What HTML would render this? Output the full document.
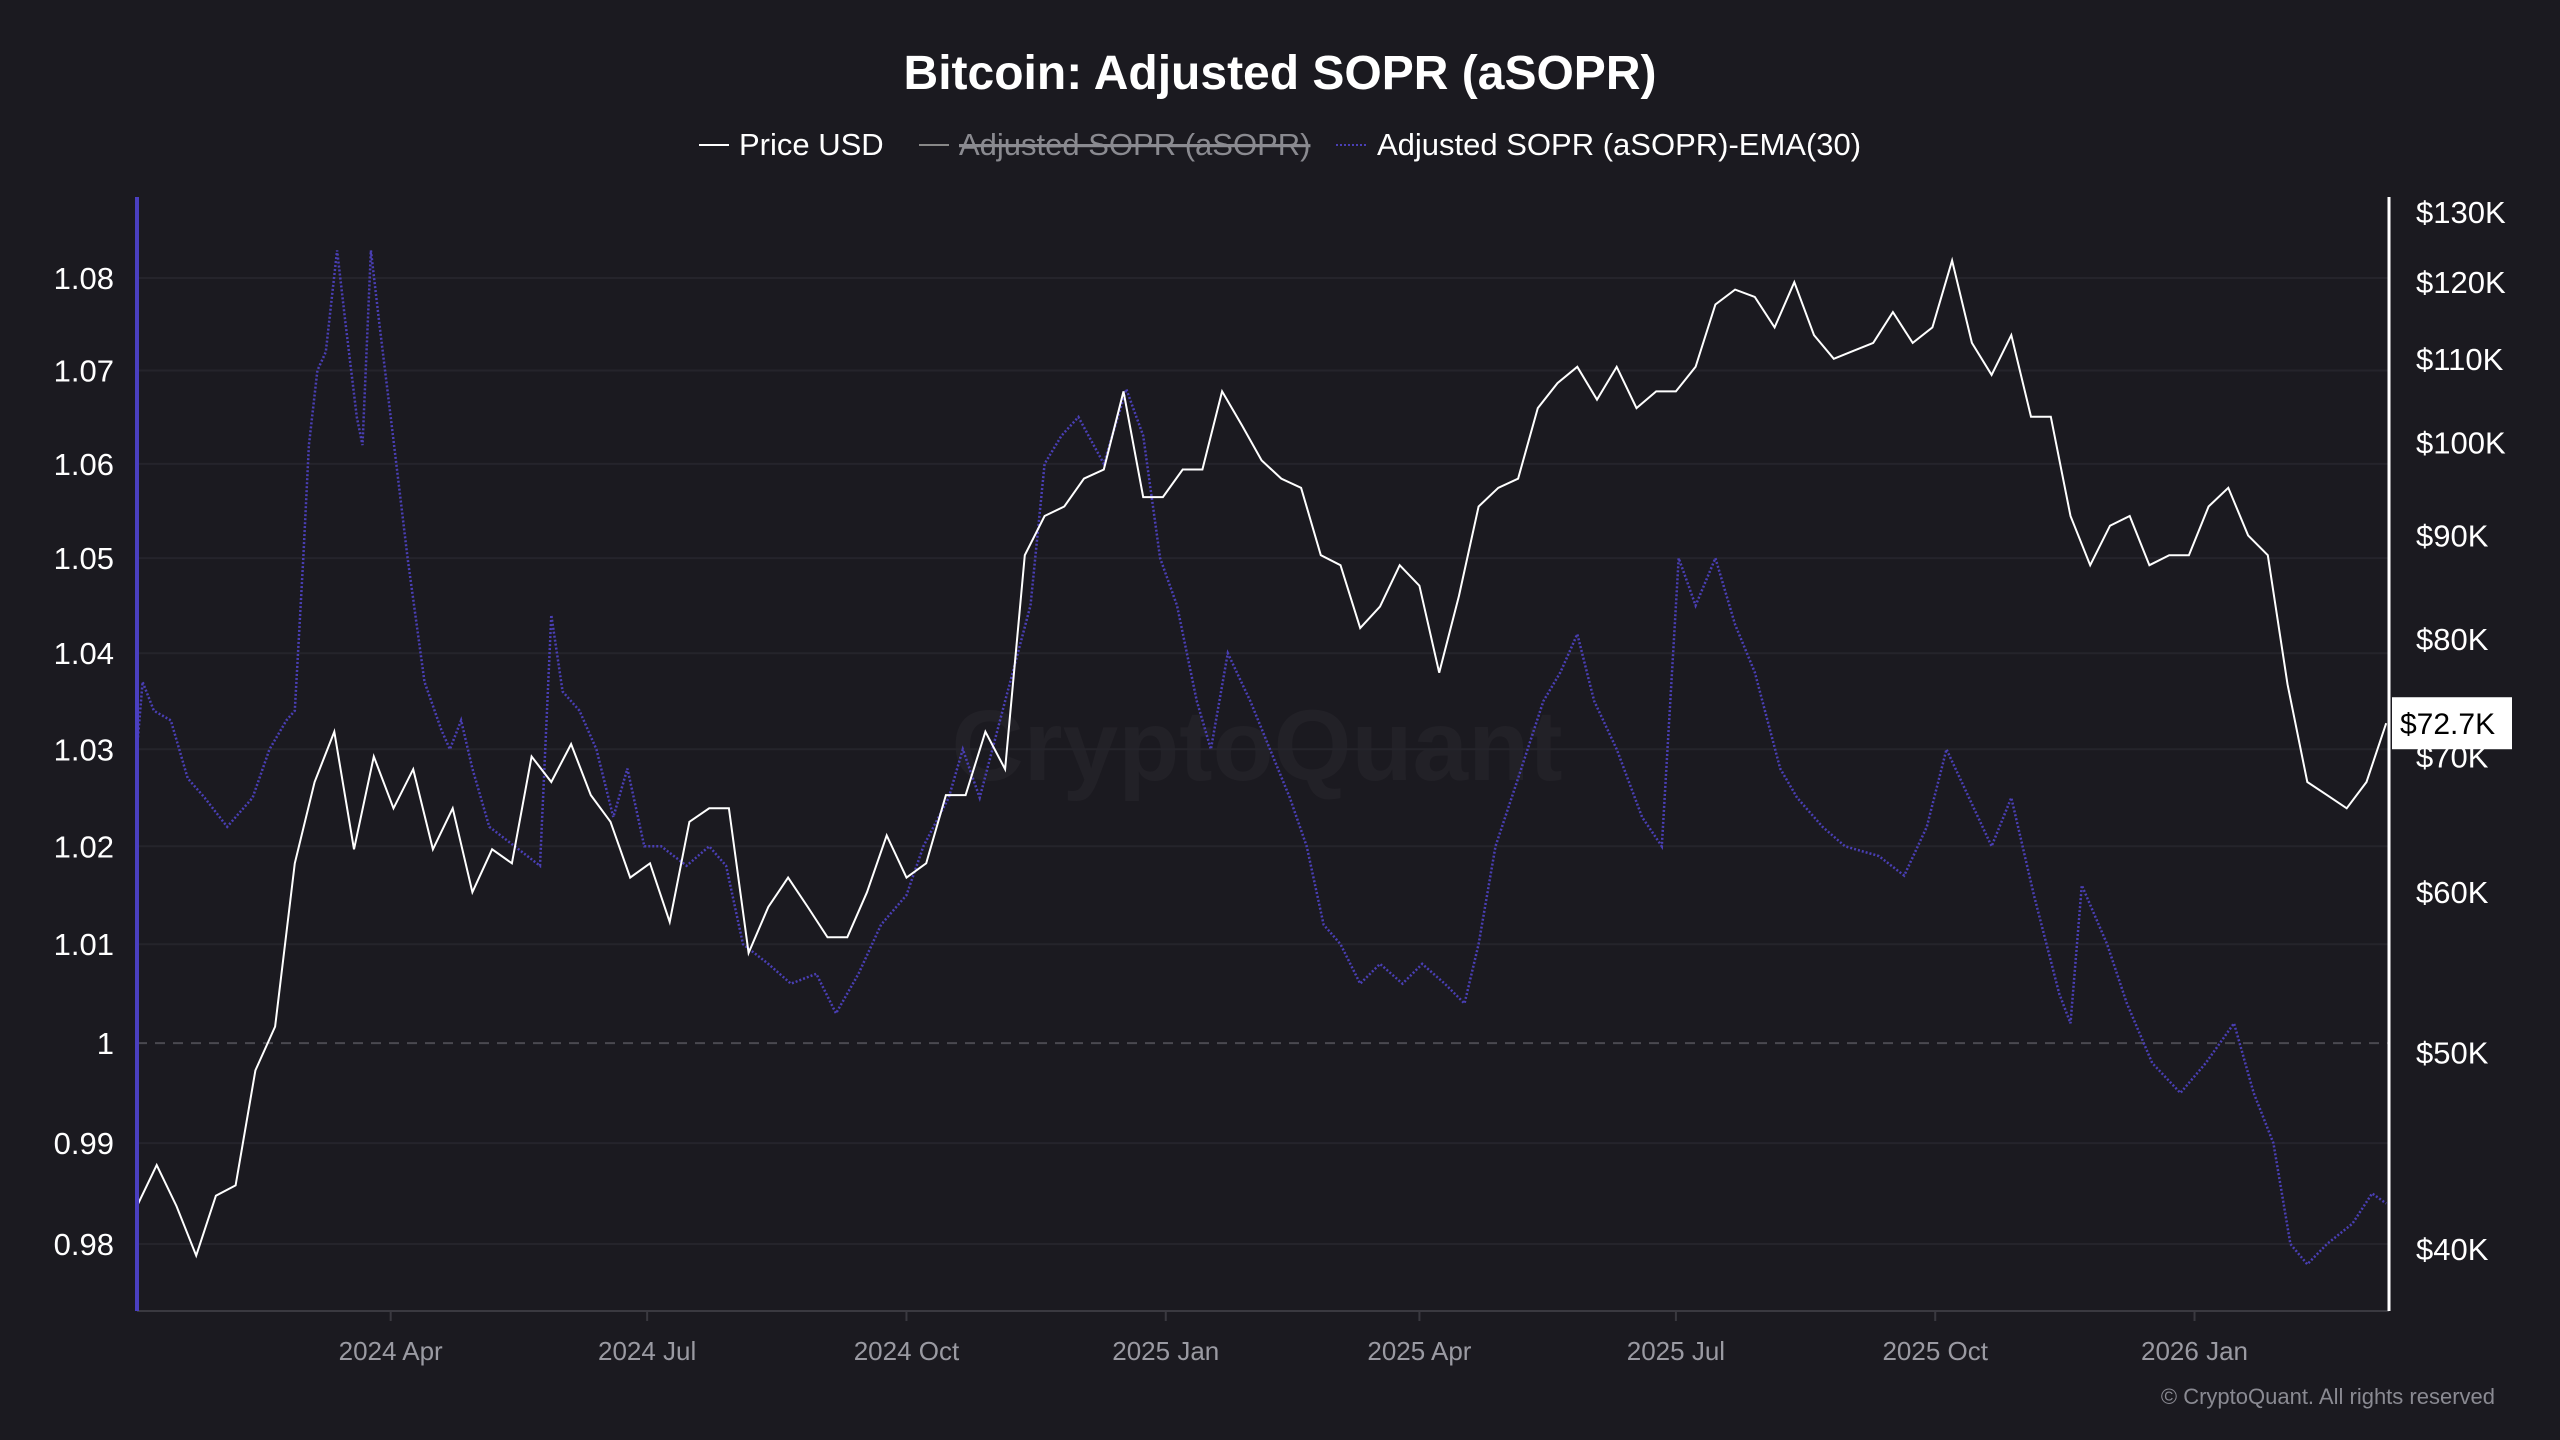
<!DOCTYPE html>
<html><head><meta charset="utf-8"><style>
html,body{margin:0;padding:0;background:#1b1a20;}
svg{display:block;font-family:"Liberation Sans",sans-serif;}
</style></head><body>
<svg id="chart" width="2560" height="1440" viewBox="0 0 2560 1440" xmlns="http://www.w3.org/2000/svg">
<rect width="2560" height="1440" fill="#1b1a20"/>
<text x="1280" y="89" text-anchor="middle" fill="#ffffff" font-size="48" font-weight="bold">Bitcoin: Adjusted SOPR (aSOPR)</text>
<g font-size="31">
 <g><line x1="699" y1="145" x2="729" y2="145" stroke="#fff" stroke-width="2"/><text x="739" y="155" fill="#fff">Price USD</text></g>
 <g><line x1="919" y1="145" x2="949" y2="145" stroke="#888" stroke-width="2"/><text x="959" y="155" fill="#8a8a90" text-decoration="line-through">Adjusted SOPR (aSOPR)</text><line x1="959" y1="145" x2="1300" y2="145" stroke="#8a8a90" stroke-width="2"/></g>
 <g><line x1="1336" y1="145" x2="1366" y2="145" stroke="#4a3fb5" stroke-width="2" stroke-dasharray="2 2"/><text x="1377" y="155" fill="#fff">Adjusted SOPR (aSOPR)-EMA(30)</text></g>
</g>
<text x="1257" y="780" text-anchor="middle" fill="#222127" font-size="100" font-weight="bold">CryptoQuant</text>
<g id="grid"></g>
<g id="series"></g>
<g id="axes"></g>
<text x="2495" y="1404" text-anchor="end" fill="#8a8a92" font-size="22">© CryptoQuant. All rights reserved</text>
</svg>
<script>
const leftTicks = [0.98,0.99,1,1.01,1.02,1.03,1.04,1.05,1.06,1.07,1.08];
const leftTickLabels = ["0.98","0.99","1","1.01","1.02","1.03","1.04","1.05","1.06","1.07","1.08"];
const rightTicks = [40,50,60,70,80,90,100,110,120,130];
const rightTickLabels = ["$40K","$50K","$60K","$70K","$80K","$90K","$100K","$110K","$120K","$130K"];
const xTickDays = [90,181,273,365,455,546,638,730];
const xTickLabels = ["2024 Apr","2024 Jul","2024 Oct","2025 Jan","2025 Apr","2025 Jul","2025 Oct","2026 Jan"];
const priceWeekly = [42,44,42,39.7,42.5,43,49,51.5,62,68,72,63,70,66,69,63,66,60,63,62,70,68,71,67,65,61,62,58,65,66,66,56,59,61,59,57,57,60,64,61,62,67,67,72,69,88,92,93,96,97,106,94,94,
97,97,106,102,98,96,95,88,87,81,83,87,85,77,84,93,95,96,104,107,109,105,109,104,106,106,109,117,119,118,114,120,113,110,111,112,116,112,114,123,112,108,113,103,103,92,87,91,92,87,88,88,
93,95,90,88,76,68,67,66,68,72.7];
const emaDays = [0,2,6,12,18,24,32,41,47,53,56,59,61,64,67,71,74,78,80,83,86,90,96,102,108,111,115,119,125,134,143,147,151,157,163,169,174,180,186,195,203,209,215,224,232,241,248,256,264,273,279,288,293,299,308,317,322,328,334,343,351,357,363,369,376,381,387,395,402,409,415,421,427,434,441,449,456,464,471,476,482,490,499,505,511,517,525,534,541,547,553,560,567,574,583,589,598,606,618,627,635,642,650,658,665,673,682,686,690,699,706,715,725,734,744,751,758,764,770,777,786,793,798];
const emaValues = [1.030,1.037,1.034,1.033,1.027,1.025,1.022,1.025,1.030,1.033,1.034,1.05,1.062,1.07,1.072,1.083,1.075,1.065,1.062,1.083,1.075,1.065,1.05,1.037,1.032,1.03,1.033,1.028,1.022,1.02,1.018,1.044,1.036,1.034,1.03,1.023,1.028,1.02,1.02,1.018,1.02,1.018,1.01,1.008,1.006,1.007,1.003,1.007,1.012,1.015,1.02,1.025,1.03,1.025,1.035,1.045,1.06,1.063,1.065,1.06,1.068,1.063,1.05,1.045,1.035,1.03,1.04,1.035,1.03,1.025,1.02,1.012,1.01,1.006,1.008,1.006,1.008,1.006,1.004,1.01,1.02,1.027,1.035,1.038,1.042,1.035,1.03,1.023,1.02,1.05,1.045,1.05,1.043,1.038,1.028,1.025,1.022,1.02,1.019,1.017,1.022,1.03,1.025,1.02,1.025,1.015,1.005,1.002,1.016,1.01,1.004,0.998,0.995,0.998,1.002,0.995,0.99,0.98,0.978,0.98,0.982,0.985,0.984];

const NS="http://www.w3.org/2000/svg";
const L=137,R=2389,T=197,B=1311,totalDays=799;
function x(d){return L+(R-L)*d/totalDays;}
function yL(v){return 1244-(Math.log(v)-Math.log(0.98))*9942;}
function yR(v){return 1249-Math.log(v/40)*880;}
function mk(tag,attrs,parent){const e=document.createElementNS(NS,tag);for(const k in attrs)e.setAttribute(k,attrs[k]);parent.appendChild(e);return e;}
const grid=document.getElementById('grid'),axes=document.getElementById('axes'),series=document.getElementById('series');
leftTicks.forEach((v,i)=>{
 const g=mk('line',{x1:L,x2:R,y1:yL(v),y2:yL(v),stroke:v===1?'#4a4950':'#25242b','stroke-width':2,'stroke-dasharray':v===1?'10 8':'none'},grid);
 
 
 const t=mk('text',{x:114,y:yL(v)+11,'text-anchor':'end',fill:'#fff','font-size':31},axes);
 t.textContent=leftTickLabels[i];
 
 
});
rightTicks.forEach((v,i)=>{
 const t=mk('text',{x:2416,y:yR(v)+11,fill:'#fff','font-size':31},axes);
 t.textContent=rightTickLabels[i];
 
 
});
xTickDays.forEach((d,i)=>{
 const tk=mk('line',{x1:x(d),x2:x(d),y1:B,y2:B+10,stroke:'#3a3940','stroke-width':2},axes);
 
 
 const t=mk('text',{x:x(d),y:1360,'text-anchor':'middle',fill:'#9a9aa2','font-size':26},axes);
 t.textContent=xTickLabels[i];
 
 
});
const bl=mk('line',{x1:L,x2:R,y1:B,y2:B,stroke:'#3a3940','stroke-width':2},axes);


const la=mk('line',{x1:L,x2:L,y1:T,y2:B,stroke:'#4a3fc0','stroke-width':4},axes);


const ra=mk('line',{x1:R,x2:R,y1:T,y2:B,stroke:'#ffffff','stroke-width':3},axes);


const ema=mk('path',{d:emaDays.map((d,i)=>(i?'L':'M')+x(d).toFixed(1)+','+yL(emaValues[i]).toFixed(1)).join(''),fill:'none',stroke:'#4a3fb5','stroke-width':2.5,'stroke-dasharray':'2 2'},series);


const pr=mk('path',{d:priceWeekly.map((v,i)=>(i?'L':'M')+x(i*7).toFixed(1)+','+yR(v).toFixed(1)).join(''),fill:'none',stroke:'#ffffff','stroke-width':2},series);


const last=priceWeekly[priceWeekly.length-1];
const lb=mk('rect',{x:2392,y:yR(last)-26,width:120,height:52,fill:'#fff'},axes);


const lt=mk('text',{x:2400,y:yR(last)+11,fill:'#000','font-size':30},axes);
lt.textContent='$'+last+'K';


</script>
</body></html>
